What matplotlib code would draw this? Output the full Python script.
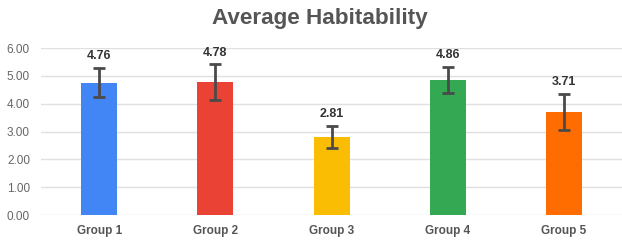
import matplotlib.pyplot as plt

plt.rcParams['font.family'] = ['Liberation Sans', 'DejaVu Sans']

groups = ['Group 1', 'Group 2', 'Group 3', 'Group 4', 'Group 5']
averages = [4.76, 4.78, 2.81, 4.86, 3.71]
errors = [0.53, 0.63, 0.40, 0.47, 0.65]
colors = ['#4285F4', '#EA4335', '#FBBC04', '#34A853', '#FF6D01']

fig = plt.figure(figsize=(6.22, 2.4), dpi=100)
ax = fig.add_axes([0.066, 0.104, 0.934, 0.696])

x = range(len(groups))
ax.bar(x, averages, width=0.31, color=colors, zorder=2)
ax.errorbar(x, averages, yerr=errors, fmt='none', ecolor='#4a4a4a',
            elinewidth=2, capsize=4, capthick=2, zorder=3)

# value labels above the error bars
for i, (v, e) in enumerate(zip(averages, errors)):
    ax.annotate(f'{v:.2f}', (i, v + e), xytext=(0, 4), textcoords='offset points',
                ha='center', va='bottom', fontsize=9, fontweight='bold', color='#333333')

ax.set_xlim(-0.5, 4.5)
ax.set_ylim(0, 6)
ax.set_yticks([0, 1, 2, 3, 4, 5, 6])
ax.set_yticklabels([f'{t:.2f}' for t in range(7)])
ax.set_xticks(list(x))
ax.set_xticklabels(groups, fontweight='bold')
ax.tick_params(axis='y', length=0, labelsize=8.5, labelcolor='#666666', pad=8)
ax.tick_params(axis='x', length=0, labelsize=8.5, labelcolor='#555555', pad=7)
ax.grid(axis='y', color='#e0e0e0', linewidth=1, zorder=0)
for s in ax.spines.values():
    s.set_visible(False)

fig.suptitle('Average Habitability', x=0.514, y=0.965, fontsize=16.2, fontweight='bold', color='#555555')

fig.savefig('out.png', dpi=100)
